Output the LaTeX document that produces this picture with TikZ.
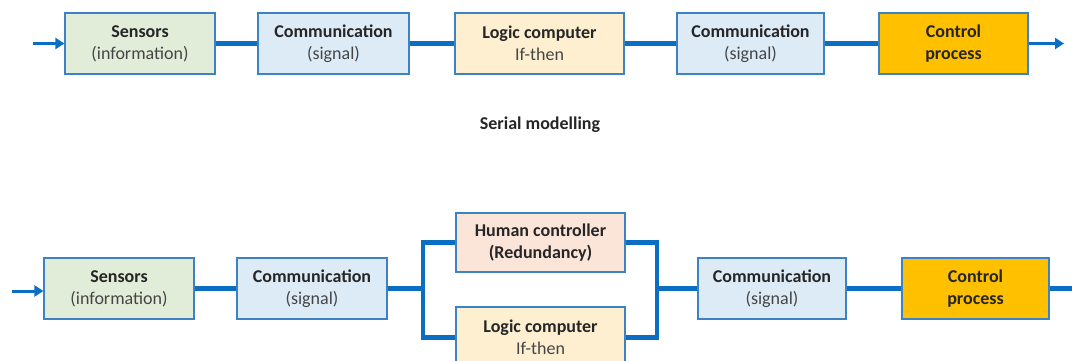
\documentclass[tikz,border=0pt]{standalone}
\usepackage{fontspec}
\setmainfont{Carlito}
\usetikzlibrary{arrows.meta}
\definecolor{linkblue}{HTML}{0A6FC2}
\definecolor{edgeblue}{HTML}{3C82C4}
\definecolor{sensfill}{HTML}{E2EDD9}
\definecolor{commfill}{HTML}{DDEBF7}
\definecolor{logicfill}{HTML}{FDEFD0}
\definecolor{humanfill}{HTML}{FBE4D8}
\definecolor{procfill}{HTML}{FFC000}
\definecolor{txtdark}{HTML}{262626}
\definecolor{txtgray}{HTML}{454545}
\tikzset{
  block/.style={draw=edgeblue, line width=1.2pt, rectangle, minimum height=61pt,
    align=center, inner sep=0pt, text=txtdark,
    font=\fontsize{18pt}{22pt}\selectfont},
  link/.style={draw=linkblue, line width=4.5pt},
  feed/.style={draw=linkblue, line width=3pt, -{Triangle[length=9pt,width=11pt]}},
}
\newcommand{\boxtext}[2]{\textbf{#1}\\{\color{txtgray}#2}}
\begin{document}
\begin{tikzpicture}[x=1pt,y=-1pt]
\clip (0,0) rectangle (1072,361);
\fill[white] (0,0) rectangle (1072,361);

% serial chain
\node[block, fill=sensfill,  minimum width=150pt] (s1) at (140,43.5)   {\boxtext{Sensors}{(information)}};
\node[block, fill=commfill,  minimum width=151pt] (c1) at (333.5,43.5) {\boxtext{Communication}{(signal)}};
\node[block, fill=logicfill, minimum width=169pt] (l1) at (539.5,43.5) {\boxtext{Logic computer}{If-then}};
\node[block, fill=commfill,  minimum width=147pt] (c2) at (750.5,43.5) {\boxtext{Communication}{(signal)}};
\node[block, fill=procfill,  minimum width=149pt] (p1) at (953.5,43.5) {\textbf{Control}\\\textbf{process}};

\coordinate (in1) at (33,43.5);
\coordinate (out1) at (1064,43.5);
\draw[feed] (in1) -- (s1.west);
\draw[link] (s1) -- (c1);
\draw[link] (c1) -- (l1);
\draw[link] (l1) -- (c2);
\draw[link] (c2) -- (p1);
\draw[feed] (p1.east) -- (out1);

\node[font=\fontsize{18pt}{22pt}\selectfont\bfseries, text=txtdark] (title) at (540,125) {Serial modelling};

% chain with a redundant branch
\node[block, fill=sensfill,  minimum width=150pt] (s2) at (119,288.5)   {\boxtext{Sensors}{(information)}};
\node[block, fill=commfill,  minimum width=150pt] (c3) at (312,288.5)   {\boxtext{Communication}{(signal)}};
\node[block, fill=humanfill, minimum width=169pt, minimum height=59pt] (hc) at (540.5,242.5) {\textbf{Human controller}\\\textbf{(Redundancy)}};
\node[block, fill=logicfill, minimum width=169pt] (l2) at (540.5,337.5) {\boxtext{Logic computer}{If-then}};
\node[block, fill=commfill,  minimum width=148pt] (c4) at (772,288.5)   {\boxtext{Communication}{(signal)}};
\node[block, fill=procfill,  minimum width=147pt] (p2) at (975.5,288.5) {\textbf{Control}\\\textbf{process}};

\coordinate (splitL) at (423,288.5);
\coordinate (splitR) at (657,288.5);
\coordinate (in2) at (12,291);
\coordinate (out2) at (1080,288.5);

\draw[feed] (in2) -- (in2 -| s2.west);
\draw[link] (s2) -- (c3);
\draw[link] (c3.east) -- (splitL);
\draw[link] (hc.west) -| (splitL) |- (l2.west);
\draw[link] (hc.east) -| (splitR) |- (l2.east);
\draw[link] (splitR) -- (c4.west);
\draw[link] (c4) -- (p2);
\draw[link] (p2.east) -- (out2);
\end{tikzpicture}
\end{document}
